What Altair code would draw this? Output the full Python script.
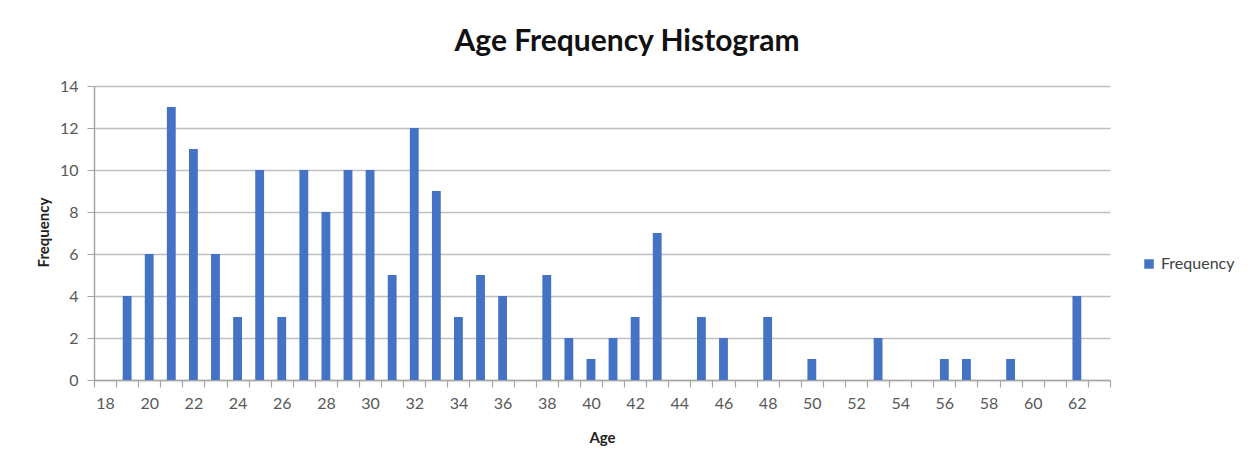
import altair as alt
import pandas as pd

ages = list(range(18, 64))
freq = [0, 4, 6, 13, 11, 6, 3, 10, 3, 10, 8, 10, 10, 5, 12, 9, 3, 5, 4, 0,
        5, 2, 1, 2, 3, 7, 0, 3, 2, 0, 3, 0, 1, 0, 0, 2, 0, 0, 1, 1,
        0, 1, 0, 0, 4, 0]
series = ["Frequency"] * len(ages)
y_ticks = [0, 2, 4, 6, 8, 10, 12, 14]

df = pd.DataFrame({"Age": ages, "Frequency": freq, "Series": series})

FONT = "Lato"
LABEL = "#595959"

bars = alt.Chart(df).mark_bar(width={"band": 0.4}).encode(
    x=alt.X("Age:O", scale=alt.Scale(domain=ages, paddingInner=0, paddingOuter=0),
            axis=alt.Axis(title="Age", labelAngle=0, labelOverlap=False,
                          labelExpr="datum.value % 2 == 0 ? datum.label : ''",
                          tickBand="extent", tickSize=7, tickColor="#a6a6a6",
                          domainColor="#a6a6a6", domainWidth=1.5, tickWidth=1.2,
                          labelFont=FONT, labelFontSize=16, labelColor=LABEL,
                          labelPadding=8, titleFont=FONT, titleFontSize=15,
                          titleFontWeight="bold", titleColor="#222222",
                          titleY=57, titleBaseline="middle", grid=False)),
    y=alt.Y("Frequency:Q", scale=alt.Scale(domain=[0, 14], nice=False),
            axis=alt.Axis(title="Frequency", values=y_ticks, tickSize=7,
                          tickColor="#a6a6a6", domainColor="#a6a6a6", domainWidth=1.5,
                          gridColor="#bfbfbf", gridWidth=1.5,
                          labelFont=FONT, labelFontSize=16, labelColor=LABEL,
                          labelPadding=9, titleFont=FONT, titleFontSize=15,
                          titleFontWeight="bold", titleColor="#222222",
                          titleX=-51, titleY=146, titleAngle=-90,
                          titleBaseline="middle", titleAlign="center")),
    color=alt.Color("Series:N", scale=alt.Scale(range=["#4472C4"]),
                    legend=alt.Legend(title=None, orient="none", legendX=1047, legendY=170,
                                      symbolType="square", symbolSize=90,
                                      labelFont=FONT, labelFontSize=16,
                                      labelColor="#404040")),
)

chart = bars.properties(
    width=1016, height=294,
    title=alt.TitleParams("Age Frequency Histogram", font=FONT, fontSize=30,
                          fontWeight="bold", color="#111111", anchor="middle",
                          dx=25, offset=21),
    autosize=alt.AutoSizeParams(type="none"),
    padding={"left": 86, "top": 78, "right": 133, "bottom": 76},
).configure_view(stroke=None)

chart.save("out.html", embed_options={"renderer": "svg", "actions": False})
